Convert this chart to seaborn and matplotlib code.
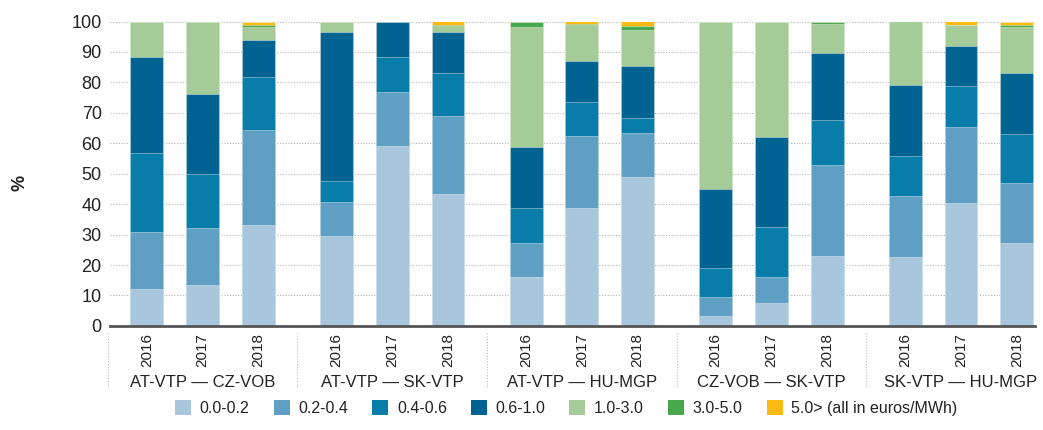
import seaborn as sns
import matplotlib.pyplot as plt
import matplotlib.transforms as mtransforms
from matplotlib.patches import Patch
import numpy as np
import pandas as pd

# categories
groups = ["AT-VTP — CZ-VOB", "AT-VTP — SK-VTP", "AT-VTP — HU-MGP", "CZ-VOB — SK-VTP", "SK-VTP — HU-MGP"]
years = ["2016", "2017", "2018"]
bands = ["0.0-0.2", "0.2-0.4", "0.4-0.6", "0.6-1.0", "1.0-3.0", "3.0-5.0", "5.0> (all in euros/MWh)"]
colors = ["#a8c6dc", "#5f9fc4", "#087daa", "#006391", "#a4cb98", "#47a94c", "#fdb913"]

# shares (%) per price band, bars ordered group by group, 2016-2018
b_00_02 = [12.0, 13.4, 33.1, 29.6, 59.1, 43.2, 16.2, 38.8, 49.0, 3.3, 7.6, 23.0, 22.5, 40.3, 27.3]
b_02_04 = [18.7, 18.8, 31.3, 11.1, 17.8, 25.6, 11.1, 23.6, 14.4, 6.3, 8.6, 30.0, 20.2, 25.1, 19.5]
b_04_06 = [26.0, 17.7, 17.3, 6.8, 11.6, 14.3, 11.5, 11.1, 4.8, 9.5, 16.2, 14.8, 13.2, 13.4, 16.2]
b_06_10 = [31.7, 26.3, 12.1, 49.1, 11.5, 13.5, 20.1, 13.4, 17.2, 25.9, 29.5, 22.0, 23.4, 13.0, 20.1]
b_10_30 = [11.6, 23.8, 4.3, 3.4, 0.0, 2.0, 39.2, 12.0, 11.9, 55.0, 38.1, 9.3, 20.4, 7.2, 15.0]
b_30_50 = [0.0, 0.0, 0.7, 0.0, 0.0, 0.4, 1.9, 0.2, 1.2, 0.0, 0.0, 0.9, 0.3, 0.0, 0.8]
b_50_up = [0.0, 0.0, 1.2, 0.0, 0.0, 1.0, 0.0, 0.9, 1.5, 0.0, 0.0, 0.0, 0.0, 1.0, 1.1]
series = [b_00_02, b_02_04, b_04_06, b_06_10, b_10_30, b_30_50, b_50_up]

sns.set_style("white")
plt.rcParams['font.family'] = ['Liberation Sans', 'DejaVu Sans']

group_step = 3.4
pos = [g * group_step + i for g in range(len(groups)) for i in range(len(years))]
cum = np.cumsum(np.array(series), axis=0)

fig = plt.figure(figsize=(10.43, 4.30), dpi=100)
ax = fig.add_axes([0.1055, 0.242, 0.8865, 0.708])

# stacked bars: draw cumulative totals from the top band down
for k in range(len(bands) - 1, -1, -1):
    df = pd.DataFrame({"x": pos, "y": cum[k]})
    sns.barplot(data=df, x="x", y="y", native_scale=True, width=0.59,
                color=colors[k], saturation=1, errorbar=None, ax=ax,
                edgecolor=(1, 1, 1, 0.45), linewidth=0.6)

ax.set_xlim(-0.66, pos[-1] + 0.32)
ax.set_ylim(0, 100)
ax.set_yticks(range(0, 101, 10))
ax.tick_params(axis="y", length=0, labelsize=13, pad=6, colors="#222222")
for y in range(10, 101, 10):
    ax.axhline(y, color="#b5b5b5", lw=0.8, ls=(0, (1, 1.5)), zorder=0)
for s in ["left", "right", "top"]:
    ax.spines[s].set_visible(False)
ax.spines["bottom"].set_color("#555555")
ax.spines["bottom"].set_linewidth(2)

ax.set_xticks(pos)
ax.set_xticklabels(years * len(groups), rotation=90, fontsize=11, color="#222222")
ax.tick_params(axis="x", length=0, pad=5)
ax.set_xlabel("")
ax.set_ylabel("")

trans = mtransforms.blended_transform_factory(ax.transData, ax.transAxes)
for g, name in enumerate(groups):
    ax.text(g * group_step + 1, -0.185, name, transform=trans, ha="center", va="center",
            fontsize=12, color="#222222")
    xs = g * group_step - 0.7
    ax.plot([xs, xs], [-0.023, -0.2], transform=trans, clip_on=False,
            color="#bbbbbb", lw=0.8, ls=(0, (1, 1.5)))

fig.text(0.019, 0.575, "%", rotation=90, fontsize=13, fontweight="bold", ha="center", va="center",
         color="#222222")

handles = [Patch(facecolor=c, edgecolor="none") for c in colors]
fig.legend(handles, bands, loc="center", bbox_to_anchor=(0.543, 0.051), ncol=7, frameon=False,
           fontsize=11.5, handlelength=1.0, handleheight=1.0, handletextpad=0.55, columnspacing=1.5,
           labelcolor="#222222")

fig.savefig("out.png", dpi=100)
